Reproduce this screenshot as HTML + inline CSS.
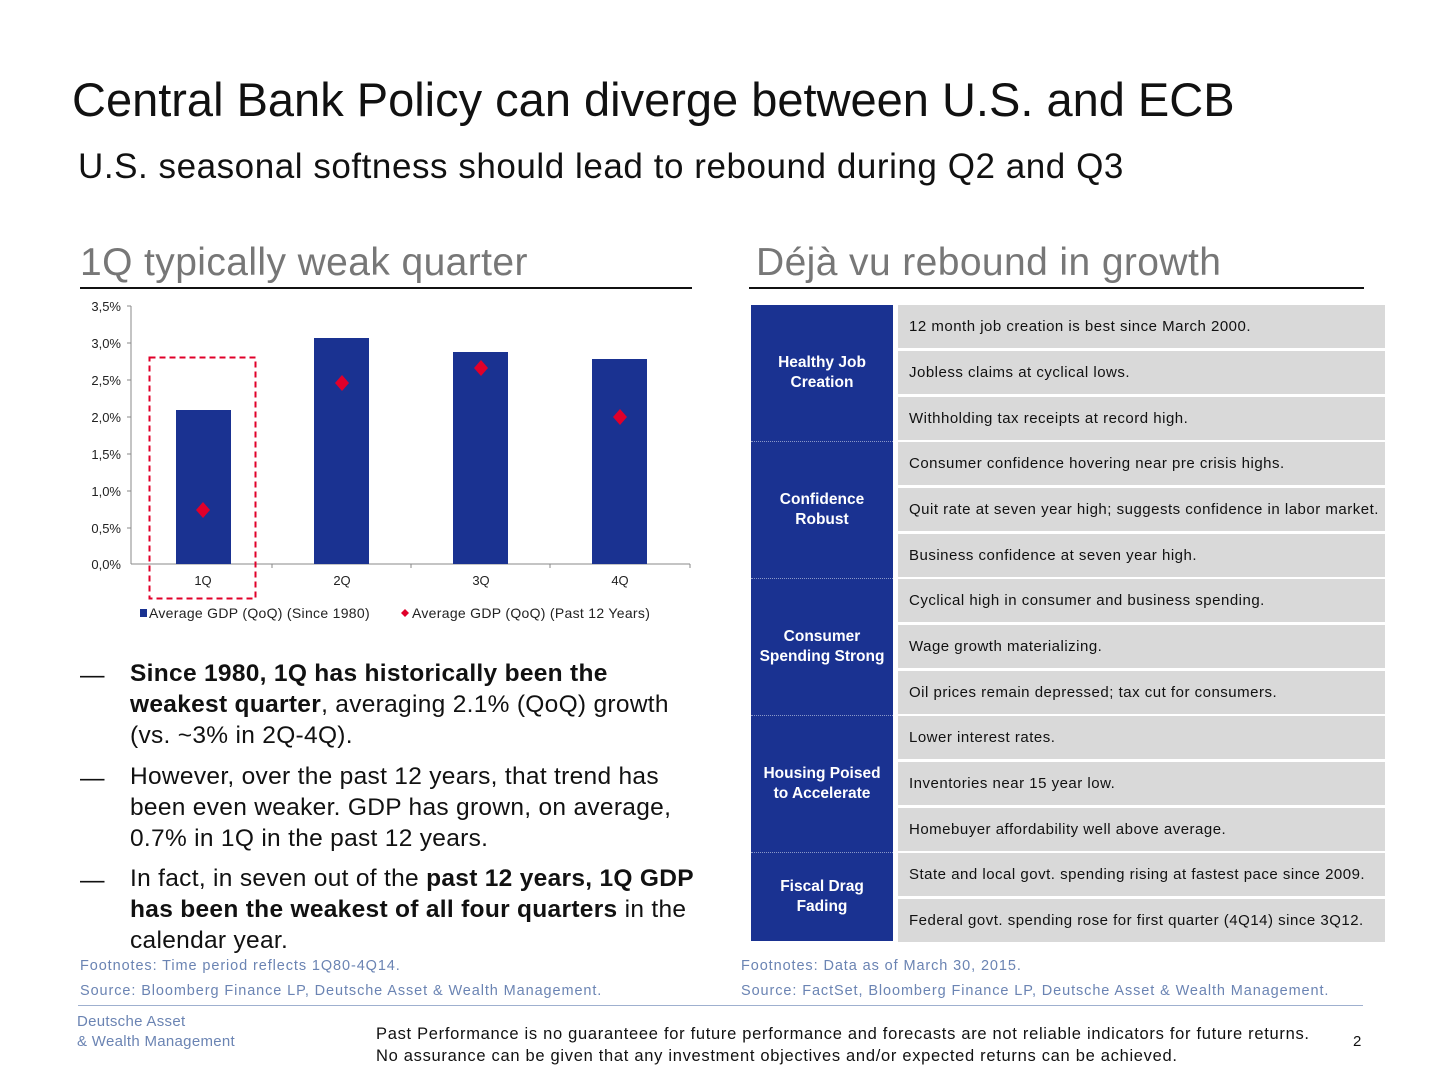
<!DOCTYPE html>
<html><head><meta charset="utf-8"><style>
body{margin:0;width:1440px;height:1083px;background:#fff;position:relative;font-family:"Liberation Sans",Arial,sans-serif;overflow:hidden}
.a{position:absolute;white-space:nowrap}
.g{position:absolute;left:898px;width:487px;background:#d9d9d9;font-size:15px;letter-spacing:0.5px;color:#111;line-height:43px;padding-left:11px;box-sizing:border-box;white-space:nowrap}
.b{position:absolute;left:751px;width:142px;background:#1a3291;color:#fff;font-weight:bold;font-size:15.5px;text-align:center;display:flex;align-items:center;justify-content:center;line-height:20px;box-sizing:border-box}
.sep{position:absolute;left:751px;width:142px;height:0;border-top:1px dotted #8a98c8}
.bl{font-size:24.5px;color:#111;line-height:31px;letter-spacing:0.3px}
.fn{font-size:14.5px;color:#6b84b3;letter-spacing:0.9px}
</style></head><body>
<div class="a" style="left:72px;top:72px;font-size:47px;color:#111">Central Bank Policy can diverge between U.S. and ECB</div>
<div class="a" style="left:78px;top:147px;font-size:35px;color:#111;letter-spacing:0.55px">U.S. seasonal softness should lead to rebound during Q2 and Q3</div>
<div class="a" style="left:80px;top:241px;font-size:39px;color:#777;letter-spacing:0.4px">1Q typically weak quarter</div>
<div class="a" style="left:80px;top:287px;width:612px;height:2px;background:#111"></div>
<div class="a" style="left:756px;top:241px;font-size:39px;color:#777;letter-spacing:0.4px">Déjà vu rebound in growth</div>
<div class="a" style="left:749px;top:287px;width:615px;height:2px;background:#111"></div>

<svg class="a" style="left:0;top:0" width="720" height="630">
<g font-size="13" fill="#222" text-anchor="end" font-family="Liberation Sans">
<text x="121" y="311">3,5%</text><text x="121" y="348">3,0%</text><text x="121" y="385">2,5%</text><text x="121" y="422">2,0%</text><text x="121" y="459">1,5%</text><text x="121" y="496">1,0%</text><text x="121" y="533">0,5%</text><text x="121" y="569">0,0%</text>
</g>
<g stroke="#888" stroke-width="1">
<line x1="131" y1="306" x2="131" y2="564"/><line x1="131" y1="564" x2="690" y2="564"/>
<line x1="127" y1="306" x2="131" y2="306"/><line x1="127" y1="343" x2="131" y2="343"/><line x1="127" y1="380" x2="131" y2="380"/><line x1="127" y1="417" x2="131" y2="417"/><line x1="127" y1="454" x2="131" y2="454"/><line x1="127" y1="491" x2="131" y2="491"/><line x1="127" y1="528" x2="131" y2="528"/>
<line x1="272" y1="564" x2="272" y2="568"/><line x1="411" y1="564" x2="411" y2="568"/><line x1="550" y1="564" x2="550" y2="568"/><line x1="690" y1="564" x2="690" y2="568"/>
</g>
<g fill="#1a3291"><rect x="176" y="410" width="55" height="154"/><rect x="314" y="338" width="55" height="226"/><rect x="453" y="352" width="55" height="212"/><rect x="592" y="359" width="55" height="205"/></g>
<g fill="#e0002a"><path d="M203 502l7 8-7 8-7-8z"/><path d="M342 375l7 8-7 8-7-8z"/><path d="M481 360l7 8-7 8-7-8z"/><path d="M620 409l7 8-7 8-7-8z"/><path d="M405 609l4 4-4 4-4-4z"/></g>
<rect x="149.5" y="357.5" width="106" height="241" fill="none" stroke="#e0002a" stroke-width="2" stroke-dasharray="6,4"/>
<g font-size="13" fill="#222" text-anchor="middle" font-family="Liberation Sans"><text x="203" y="585">1Q</text><text x="342" y="585">2Q</text><text x="481" y="585">3Q</text><text x="620" y="585">4Q</text></g>
<rect x="140" y="609" width="7" height="8" fill="#1a3291"/>
<g font-size="14" fill="#222" font-family="Liberation Sans" letter-spacing="0.3"><text x="149" y="618">Average GDP (QoQ) (Since 1980)</text><text x="412" y="618">Average GDP (QoQ) (Past 12 Years)</text></g>
</svg>

<div class="a bl" style="left:80px;top:660px">—</div>
<div class="a bl" style="left:130px;top:658px"><b>Since 1980, 1Q has historically been the</b><br><b>weakest quarter</b>, averaging 2.1% (QoQ) growth<br>(vs. ~3% in 2Q-4Q).</div>
<div class="a bl" style="left:80px;top:763px">—</div>
<div class="a bl" style="left:130px;top:761px">However, over the past 12 years, that trend has<br>been even weaker. GDP has grown, on average,<br>0.7% in 1Q in the past 12 years.</div>
<div class="a bl" style="left:80px;top:865px">—</div>
<div class="a bl" style="left:130px;top:863px">In fact, in seven out of the <b>past 12 years, 1Q GDP</b><br><b>has been the weakest of all four quarters</b> in the<br>calendar year.</div>

<div class="b" style="top:305px;height:636px"></div>
<div class="b" style="top:305px;height:136px">Healthy Job<br>Creation</div>
<div class="b" style="top:442px;height:136px">Confidence<br>Robust</div>
<div class="b" style="top:579px;height:136px">Consumer<br>Spending Strong</div>
<div class="b" style="top:716px;height:136px">Housing Poised<br>to Accelerate</div>
<div class="b" style="top:853px;height:88px">Fiscal Drag<br>Fading</div>
<div class="sep" style="top:441px"></div><div class="sep" style="top:578px"></div><div class="sep" style="top:715px"></div><div class="sep" style="top:852px"></div>

<div class="g" style="top:305px">12 month job creation is best since March 2000.</div>
<div class="g" style="top:351px">Jobless claims at cyclical lows.</div>
<div class="g" style="top:397px">Withholding tax receipts at record high.</div>
<div class="g" style="top:442px">Consumer confidence hovering near pre crisis highs.</div>
<div class="g" style="top:488px">Quit rate at seven year high; suggests confidence in labor market.</div>
<div class="g" style="top:534px">Business confidence at seven year high.</div>
<div class="g" style="top:579px">Cyclical high in consumer and business spending.</div>
<div class="g" style="top:625px">Wage growth materializing.</div>
<div class="g" style="top:671px">Oil prices remain depressed; tax cut for consumers.</div>
<div class="g" style="top:716px">Lower interest rates.</div>
<div class="g" style="top:762px">Inventories near 15 year low.</div>
<div class="g" style="top:808px">Homebuyer affordability well above average.</div>
<div class="g" style="top:853px">State and local govt. spending rising at fastest pace since 2009.</div>
<div class="g" style="top:899px">Federal govt. spending rose for first quarter (4Q14) since 3Q12.</div>

<div class="a fn" style="left:80px;top:958px">Footnotes: Time period reflects 1Q80-4Q14.</div>
<div class="a fn" style="left:80px;top:983px">Source: Bloomberg Finance LP, Deutsche Asset &amp; Wealth Management.</div>
<div class="a fn" style="left:741px;top:958px">Footnotes: Data as of March 30, 2015.</div>
<div class="a fn" style="left:741px;top:983px">Source: FactSet, Bloomberg Finance LP, Deutsche Asset &amp; Wealth Management.</div>
<div class="a" style="left:78px;top:1005px;width:1285px;height:1px;background:#9fb0cf"></div>
<div class="a" style="left:77px;top:1012px;font-size:15px;color:#6b84b3;line-height:20px;letter-spacing:0.3px">Deutsche Asset<br>&amp; Wealth Management</div>
<div class="a" style="left:376px;top:1023px;font-size:16.5px;color:#111;line-height:22px;letter-spacing:0.7px">Past Performance is no guaranteee for future performance and forecasts are not reliable indicators for future returns.<br>No assurance can be given that any investment objectives and/or expected returns can be achieved.</div>
<div class="a" style="left:1353px;top:1033px;font-size:15px;color:#111">2</div>
</body></html>
